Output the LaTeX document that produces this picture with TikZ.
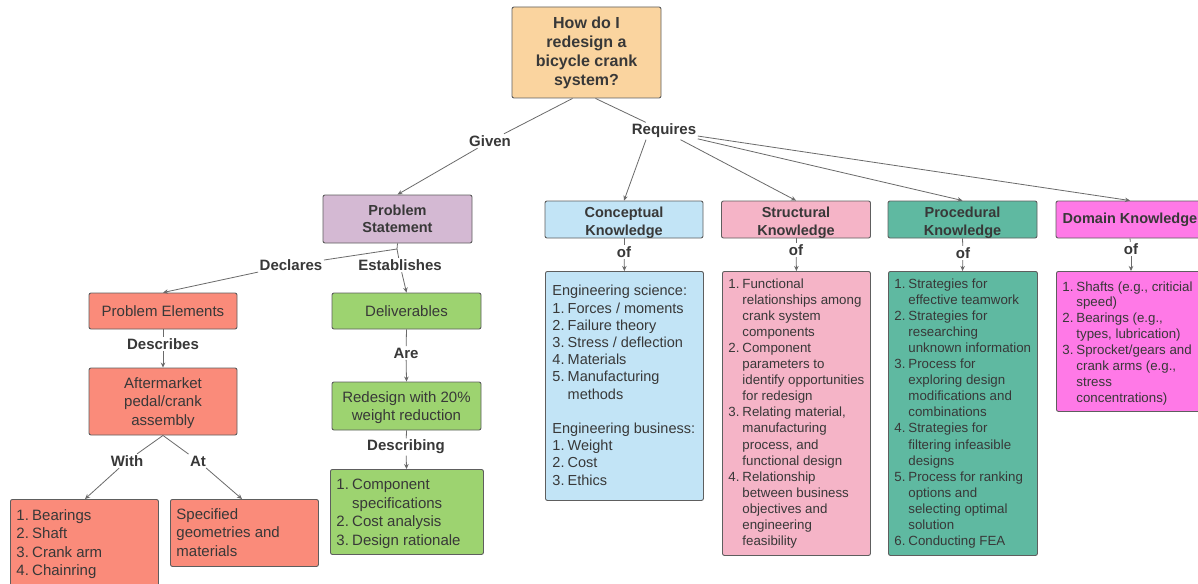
\documentclass[tikz,border=0pt]{standalone}
\usepackage{fontspec}
\setmainfont{Liberation Sans}
\usetikzlibrary{arrows.meta,calc}
\definecolor{bordc}{HTML}{5E5E5E}
\definecolor{linec}{HTML}{6A6A6A}
\definecolor{txt}{HTML}{383838}
\definecolor{corange}{HTML}{FAD49F}
\definecolor{cpurple}{HTML}{D4B9D3}
\definecolor{csalmon}{HTML}{FA8B7A}
\definecolor{cgreen}{HTML}{9DD370}
\definecolor{cblue}{HTML}{C2E4F6}
\definecolor{cpink}{HTML}{F5B4C7}
\definecolor{cteal}{HTML}{5FB9A1}
\definecolor{cmag}{HTML}{FF79E7}
\newcommand{\li}[2]{\par\noindent\hangindent=1.05em\hangafter=1\makebox[1.05em][l]{#1}#2}
\newcommand{\lbx}[3]{\parbox[c][#2][t]{#1}{\raggedright #3}}
\newcommand{\dn}[2]{\raisebox{-#1}[\height][\depth]{\parbox{140pt}{\centering #2}}}
\tikzset{
  bx/.style={draw=bordc, line width=0.9pt, rounded corners=2pt, text=txt, inner sep=0pt, align=center},
  hd/.style={bx, font=\fontsize{14.5}{17.5}\selectfont\bfseries},
  rg/.style={bx, font=\fontsize{15}{18.5}\selectfont},
  lb/.style={text=txt, inner sep=1.5pt, font=\fontsize{15}{18}\selectfont\bfseries},
  ln/.style={draw=linec, line width=0.8pt},
  ar/.style={ln, -{Stealth[length=5pt,width=4.5pt]}},
}
\begin{document}
\begin{tikzpicture}[x=1pt,y=-1pt]
\clip (0,0) rectangle (1198,583);
\fill[white] (0,0) rectangle (1198,583);
% root
\node[bx, fill=corange, minimum width=149pt, minimum height=91pt, font=\fontsize{16}{19}\selectfont\bfseries] (root) at (586.5,52.5) {How do I\\redesign a\\bicycle crank\\system?};
\node[lb] (given) at (490,141) {Given};
\node[lb] (req) at (664,131) {Requires};
% left branch
\node[hd, fill=cpurple, minimum width=149pt, minimum height=48pt] (ps) at (397.5,219) {Problem\\Statement};
\coordinate (psj) at (397,249);
\node[lb] (decl) at (291,265) {Declares};
\node[lb] (estab) at (400,265) {Establishes};
\node[rg, fill=csalmon, minimum width=148pt, minimum height=36pt] (pe) at (163,311) {Problem Elements};
\node[lb] (descr) at (163,344) {Describes};
\node[rg, fill=csalmon, minimum width=148pt, minimum height=67pt] (am) at (163,401.5) {\dn{1.5pt}{Aftermarket\\pedal/crank\\assembly}};
\node[lb] (with) at (127,461) {With};
\node[lb] (at) at (198,461) {At};
\node[bx, fill=csalmon, anchor=north west, inner xsep=6pt, inner ysep=6pt] (bear) at (10,499) {\lbx{136pt}{108pt}{\fontsize{15}{18.4}\selectfont\vspace*{4pt}\li{1.}{Bearings}\li{2.}{Shaft}\li{3.}{Crank arm}\li{4.}{Chainring}}};
\node[bx, fill=csalmon, anchor=north west, inner xsep=6pt, inner ysep=6pt] (spec) at (170,499) {\lbx{136pt}{55pt}{\fontsize{15}{18.4}\selectfont\vspace*{3pt}\noindent Specified\\geometries and\\materials}};
\node[rg, fill=cgreen, minimum width=149pt, minimum height=36pt] (del) at (406.5,311) {Deliverables};
\node[lb] (are) at (406,353) {Are};
\node[rg, fill=cgreen, minimum width=149pt, minimum height=48pt] (red) at (406.5,406) {\dn{1.5pt}{Redesign with 20\%\\weight reduction}};
\node[lb] (descg) at (406,447) {Describing};
\node[bx, fill=cgreen, anchor=north west, inner xsep=6pt, inner ysep=6pt] (comp) at (330,469) {\lbx{141pt}{73pt}{\fontsize{15}{18.4}\selectfont\vspace*{4pt}\li{1.}{Component\newline specifications}\li{2.}{Cost analysis}\li{3.}{Design rationale}}};
% knowledge headers
\node[hd, fill=cblue, minimum width=158pt, minimum height=37pt] (ck) at (624,219.5) {\dn{3.5pt}{Conceptual\\Knowledge}};
\node[hd, fill=cpink, minimum width=149pt, minimum height=37pt] (sk) at (796,219.5) {\dn{3.5pt}{Structural\\Knowledge}};
\node[hd, fill=cteal, minimum width=149pt, minimum height=37pt] (pk) at (962.5,219.5) {\dn{3.5pt}{Procedural\\Knowledge}};
\node[hd, fill=cmag, minimum width=148pt, minimum height=37pt] (dk) at (1130,219.5) {Domain Knowledge};
\node[lb] (of1) at (624,252) {of};
\node[lb] (of2) at (796,250) {of};
\node[lb] (of3) at (963,253) {of};
\node[lb] (of4) at (1131,249) {of};
% lists
\node[bx, fill=cblue, anchor=north west, inner xsep=7pt, inner ysep=7pt] (cl) at (545,271) {\lbx{144pt}{215pt}{\fontsize{14.5}{17.2}\selectfont\vspace*{7pt}\noindent Engineering science:\li{1.}{Forces / moments}\li{2.}{Failure theory}\li{3.}{Stress / deflection}\li{4.}{Materials}\li{5.}{Manufacturing\newline methods}\par\vspace{17.2pt}\noindent Engineering business:\li{1.}{Weight}\li{2.}{Cost}\li{3.}{Ethics}}};
\node[bx, fill=cpink, anchor=north west, inner xsep=6pt, inner ysep=6pt] (sl) at (722,271) {\lbx{136pt}{272pt}{\fontsize{13.3}{16.1}\selectfont\vspace*{1pt}\li{1.}{Functional\newline relationships among\newline crank system\newline components}\li{2.}{Component\newline parameters to\newline identify opportunities\newline for redesign}\li{3.}{Relating material,\newline manufacturing\newline process, and\newline functional design}\li{4.}{Relationship\newline between business\newline objectives and\newline engineering\newline feasibility}}};
\node[bx, fill=cteal, anchor=north west, inner xsep=6pt, inner ysep=6pt] (pl) at (888,271) {\lbx{137pt}{272pt}{\fontsize{13.3}{16.1}\selectfont\vspace*{1pt}\li{1.}{Strategies for\newline effective teamwork}\li{2.}{Strategies for\newline researching\newline unknown information}\li{3.}{Process for\newline exploring design\newline modifications and\newline combinations}\li{4.}{Strategies for\newline filtering infeasible\newline designs}\li{5.}{Process for ranking\newline options and\newline selecting optimal\newline solution}\li{6.}{Conducting FEA}}};
\node[bx, fill=cmag, anchor=north west, inner xsep=6pt, inner ysep=6pt] (dl) at (1056,271) {\lbx{136pt}{128pt}{\fontsize{13.3}{15.9}\selectfont\vspace*{4pt}\li{1.}{Shafts (e.g., criticial\newline speed)}\li{2.}{Bearings (e.g.,\newline types, lubrication)}\li{3.}{Sprocket/gears and\newline crank arms (e.g.,\newline stress\newline concentrations)}}};
% connectors
\draw[ln] ($(root.south)+(-14,0)$) -- (given);
\draw[ar] (given) -- (ps.north);
\draw[ln] ($(root.south)+(9,0)$) -- (req);
\draw[ar] ($(req.south)+(-18,0)$) -- (ck.north);
\draw[ar] (req) -- (sk.north);
\draw[ar] (req) -- (pk.north);
\draw[ar] (req) -- (dk.north);
\draw[ln] (ps.south) -- (psj) -- (decl);
\draw[ln] (psj) -- (estab);
\draw[ar] (decl) -- (pe.north);
\draw[ar] (estab) -- (del.north);
\draw[ln] (pe.south) -- (descr);
\draw[ar] (descr) -- (am.north);
\draw[ln] (am.south) -- (with);
\draw[ln] (am.south) -- (at);
\draw[ar] (with) -- (bear.north -| 85,0);
\draw[ar] (at) -- (spec.north -| 242,0);
\draw[ln] (del.south) -- (are);
\draw[ar] (are) -- (red.north);
\draw[ln] (red.south) -- (descg);
\draw[ar] (descg) -- (red.south |- comp.north);
\draw[ln] (ck.south) -- (of1);
\draw[ar] (of1) -- (cl.north);
\draw[ln] (sk.south) -- (of2);
\draw[ar] (of2) -- (sl.north);
\draw[ln] (pk.south) -- (of3);
\draw[ar] (of3) -- (pl.north -| pk.south);
\draw[ln] (dk.south) -- (of4);
\draw[ar] (of4) -- (dl.north -| of4);
\end{tikzpicture}
\end{document}
